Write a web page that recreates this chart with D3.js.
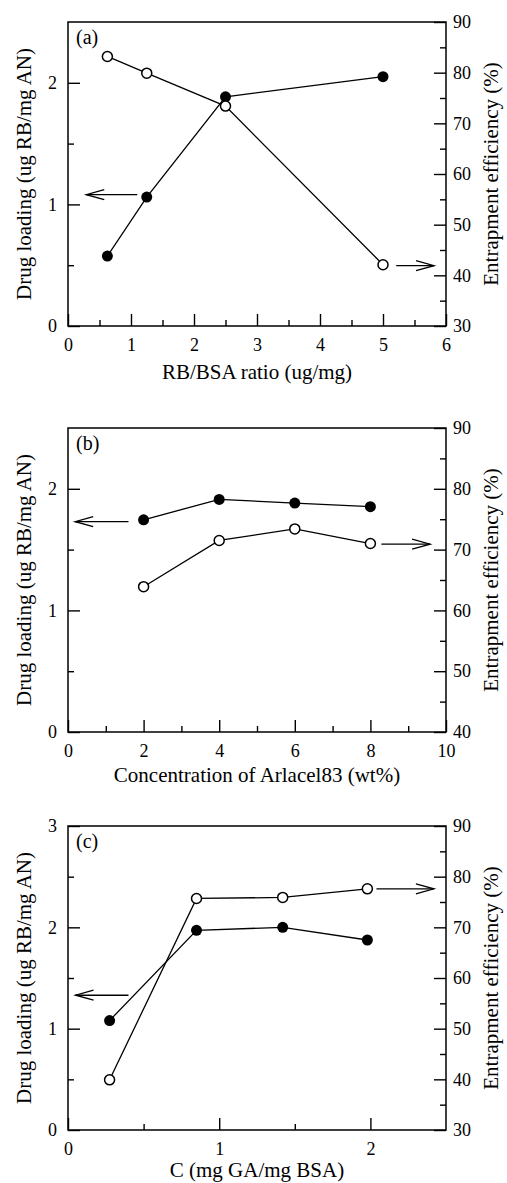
<!DOCTYPE html>
<html>
<head>
<meta charset="utf-8">
<script src="https://cdn.jsdelivr.net/npm/d3@7"></script>
<style>
  body { margin: 0; background: #fff; }
  svg text { font-family: "Liberation Serif", "Times New Roman", Times, serif !important; fill: #000; }
</style>
</head>
<body>
<svg id="chart"></svg>
<script>
// (a) RB/BSA ratio
var ratioA = [0.625, 1.25, 2.5, 5]
var loadingA = [0.575, 1.06, 1.885, 2.05]
var effA = [83.2, 79.9, 73.4, 42.1]

// (b) Arlacel83 concentration
var concB = [2, 4, 6, 8]
var loadingB = [1.745, 1.913, 1.883, 1.853]
var effB = [63.9, 71.5, 73.4, 71.0]

// (c) GA/BSA
var gaC = [0.275, 0.85, 1.42, 1.98]
var loadingC = [1.08, 1.97, 2.0, 1.875]
var effC = [39.9, 75.7, 75.9, 77.6]

// axis ticks
var xTicksA = [0, 1, 2, 3, 4, 5, 6], xMinorA = [0.5, 1.5, 2.5, 3.5, 4.5, 5.5]
var xTicksB = [0, 2, 4, 6, 8, 10], xMinorB = [1, 3, 5, 7, 9]
var xTicksC = [0, 1, 2], xMinorC = [0.5, 1.5]
var yLeftTicksAB = [0, 1, 2], yLeftMinorAB = [0.5, 1.5]
var yLeftTicksC = [0, 1, 2, 3], yLeftMinorC = [0.5, 1.5, 2.5]
var yRightTicks30 = [30, 40, 50, 60, 70, 80, 90], yRightMinor30 = [35, 45, 55, 65, 75, 85]
var yRightTicks40 = [40, 50, 60, 70, 80, 90], yRightMinor40 = [45, 55, 65, 75, 85]

// arrows pointing at the axis each series belongs to (data units)
var arrowsA = [{x0: 1.1, x1: 0.29, y: 1.08, side: 'left'}, {x0: 5.21, x1: 5.81, y: 41.9, side: 'right'}]
var arrowsB = [{x0: 1.6, x1: 0.19, y: 1.73, side: 'left'}, {x0: 8.29, x1: 9.58, y: 70.9, side: 'right'}]
var arrowsC = [{x0: 0.4, x1: 0.05, y: 1.33, side: 'left'}, {x0: 2.04, x1: 2.42, y: 77.6, side: 'right'}]

var panels = [
  {tag: '(a)', top: 22, xs: ratioA, load: loadingA, eff: effA, xDom: [0, 6], lDom: [0, 2.5], rDom: [30, 90],
   xT: xTicksA, xM: xMinorA, lT: yLeftTicksAB, lM: yLeftMinorAB, rT: yRightTicks30, rM: yRightMinor30,
   arrows: arrowsA, xTitle: 'RB/BSA ratio (ug/mg)', titleGap: 53},
  {tag: '(b)', top: 428, xs: concB, load: loadingB, eff: effB, xDom: [0, 10], lDom: [0, 2.5], rDom: [40, 90],
   xT: xTicksB, xM: xMinorB, lT: yLeftTicksAB, lM: yLeftMinorAB, rT: yRightTicks40, rM: yRightMinor40,
   arrows: arrowsB, xTitle: 'Concentration of Arlacel83 (wt%)', titleGap: 50},
  {tag: '(c)', top: 826, xs: gaC, load: loadingC, eff: effC, xDom: [0, 2.5], lDom: [0, 3], rDom: [30, 90],
   xT: xTicksC, xM: xMinorC, lT: yLeftTicksC, lM: yLeftMinorC, rT: yRightTicks30, rM: yRightMinor30,
   arrows: arrowsC, xTitle: 'C (mg GA/mg BSA)', titleGap: 47}
]

var W = 507, H = 1183
var left = 68, width = 378, height = 304
var serif = '"Liberation Serif", "Times New Roman", Times, serif'

var svg = d3.select('#chart').attr('width', W).attr('height', H)

panels.forEach(function (p) {
  var g = svg.append('g').attr('transform', 'translate(' + left + ',' + p.top + ')')

  var x = d3.scaleLinear().domain(p.xDom).range([0, width])
  var yL = d3.scaleLinear().domain(p.lDom).range([height, 0])
  var yR = d3.scaleLinear().domain(p.rDom).range([height, 0])

  var fmt = d3.format('d')

  // major + minor ticks, all pointing inward
  g.append('g').attr('transform', 'translate(0,' + height + ')')
    .call(d3.axisBottom(x).tickValues(p.xT).tickSize(-12).tickPadding(12).tickFormat(fmt))
  g.append('g').attr('transform', 'translate(0,' + height + ')')
    .call(d3.axisBottom(x).tickValues(p.xM).tickSize(-6).tickFormat(''))
  g.append('g')
    .call(d3.axisLeft(yL).tickValues(p.lT).tickSize(-12).tickPadding(11).tickFormat(fmt))
  g.append('g')
    .call(d3.axisLeft(yL).tickValues(p.lM).tickSize(-6).tickFormat(''))
  g.append('g').attr('transform', 'translate(' + width + ',0)')
    .call(d3.axisRight(yR).tickValues(p.rT).tickSize(-12).tickPadding(7).tickFormat(fmt))
  g.append('g').attr('transform', 'translate(' + width + ',0)')
    .call(d3.axisRight(yR).tickValues(p.rM).tickSize(-6).tickFormat(''))

  g.selectAll('.domain').remove()
  g.selectAll('g').attr('font-family', null)
  g.selectAll('.tick line').attr('stroke', '#000').attr('stroke-width', 1.4)
  g.selectAll('.tick text').attr('font-size', 18).style('font-family', serif)

  g.append('rect')
    .attr('width', width).attr('height', height)
    .attr('fill', 'none').attr('stroke', '#000').attr('stroke-width', 1.5)

  // series
  var loadPts = p.xs.map(function (v, i) { return [v, p.load[i]] })
  var effPts = p.xs.map(function (v, i) { return [v, p.eff[i]] })

  g.append('path')
    .datum(loadPts)
    .attr('d', d3.line().x(function (d) { return x(d[0]) }).y(function (d) { return yL(d[1]) }))
    .attr('fill', 'none').attr('stroke', '#000').attr('stroke-width', 1.3)
  g.append('path')
    .datum(effPts)
    .attr('d', d3.line().x(function (d) { return x(d[0]) }).y(function (d) { return yR(d[1]) }))
    .attr('fill', 'none').attr('stroke', '#000').attr('stroke-width', 1.3)

  g.selectAll('.filled').data(loadPts).enter().append('circle')
    .attr('cx', function (d) { return x(d[0]) })
    .attr('cy', function (d) { return yL(d[1]) })
    .attr('r', 5.5).attr('fill', '#000')
  g.selectAll('.open').data(effPts).enter().append('circle')
    .attr('cx', function (d) { return x(d[0]) })
    .attr('cy', function (d) { return yR(d[1]) })
    .attr('r', 5).attr('fill', '#fff').attr('stroke', '#000').attr('stroke-width', 1.5)

  // arrows
  p.arrows.forEach(function (a) {
    var ys = a.side === 'left' ? yL : yR
    var x0 = x(a.x0), x1 = x(a.x1), yy = ys(a.y)
    var dir = x1 < x0 ? 1 : -1
    g.append('line')
      .attr('x1', x0).attr('y1', yy).attr('x2', x1).attr('y2', yy)
      .attr('stroke', '#000').attr('stroke-width', 1.3)
    g.append('path')
      .attr('d', 'M' + (x1 + dir * 18) + ',' + (yy - 5) + 'L' + x1 + ',' + yy + 'L' + (x1 + dir * 18) + ',' + (yy + 5))
      .attr('fill', 'none').attr('stroke', '#000').attr('stroke-width', 1.3)
  })

  g.append('text')
    .attr('x', 8).attr('y', 22)
    .attr('font-size', 20).style('font-family', serif)
    .text(p.tag)

  g.append('text')
    .attr('x', width / 2).attr('y', height + p.titleGap)
    .attr('text-anchor', 'middle')
    .attr('font-size', 21).style('font-family', serif)
    .text(p.xTitle)

  g.append('text')
    .attr('transform', 'translate(' + (31 - left) + ',' + (height / 2) + ') rotate(-90)')
    .attr('text-anchor', 'middle')
    .attr('font-size', 21).style('font-family', serif)
    .text('Drug loading (ug RB/mg AN)')

  g.append('text')
    .attr('transform', 'translate(' + (498 - left) + ',' + (height / 2) + ') rotate(-90)')
    .attr('text-anchor', 'middle')
    .attr('font-size', 21).style('font-family', serif)
    .text('Entrapment efficiency (%)')
})
</script>
</body>
</html>
